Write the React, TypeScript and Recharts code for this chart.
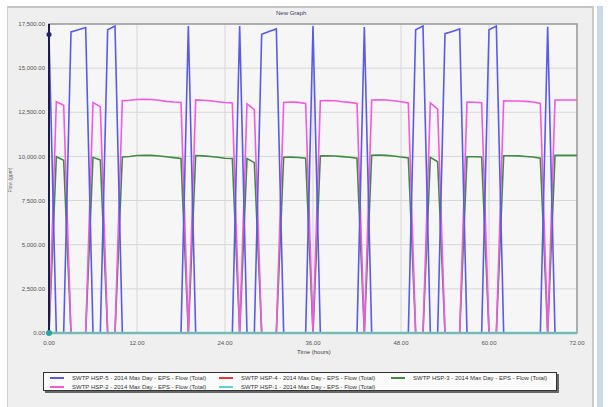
import React from "react";
import {
  LineChart,
  Line,
  XAxis,
  YAxis,
  CartesianGrid,
  ReferenceArea,
} from "recharts";

// time steps (hours)
const hours = [
  0, 1, 2, 3, 4, 5, 6, 7, 8, 9, 10, 11, 12, 13, 14, 15, 16, 17, 18, 19, 20, 21, 22, 23, 24,
  25, 26, 27, 28, 29, 30, 31, 32, 33, 34, 35, 36, 37, 38, 39, 40, 41, 42, 43, 44, 45, 46, 47, 48,
  49, 50, 51, 52, 53, 54, 55, 56, 57, 58, 59, 60, 61, 62, 63, 64, 65, 66, 67, 68, 69, 70, 71, 72,
];

// SWTP HSP-5
const hsp5 = [
  16900, 0, 0, 17050, 17180, 17300, 0, 0, 17170, 17380, 0, 0, 0, 0, 0, 0, 0, 0, 0, 17380, 0, 0, 0, 0, 0,
  0, 17380, 0, 0, 16920, 17080, 17220, 0, 0, 0, 0, 17380, 0, 0, 0, 0, 0, 0, 17330, 0, 0, 0, 0, 0,
  0, 17170, 17380, 0, 0, 16950, 17080, 17220, 0, 0, 0, 17170, 17380, 0, 0, 0, 0, 0, 0, 17350, 0, 0, 0, 0,
];

// SWTP HSP-4
const hsp4 = [
  0, 0, 0, 0, 0, 0, 0, 0, 0, 0, 0, 0, 0, 0, 0, 0, 0, 0, 0, 0, 0, 0, 0, 0, 0,
  0, 0, 0, 0, 0, 0, 0, 0, 0, 0, 0, 0, 0, 0, 0, 0, 0, 0, 0, 0, 0, 0, 0, 0,
  0, 0, 0, 0, 0, 0, 0, 0, 0, 0, 0, 0, 0, 0, 0, 0, 0, 0, 0, 0, 0, 0, 0, 0,
];

// SWTP HSP-3
const hsp3 = [
  0, 9980, 9780, 0, 0, 0, 9950, 9800, 0, 0, 9970, 10000, 10050, 10070, 10060, 10020, 9980, 9930, 9880, 0, 10050, 10030, 10000, 9950, 9900,
  9880, 0, 9880, 9650, 0, 0, 0, 9950, 9960, 9940, 9900, 0, 10030, 10040, 10020, 9990, 9950, 9900, 0, 10070, 10080, 10060, 10020, 9970,
  9920, 0, 0, 9950, 9700, 0, 0, 0, 9980, 9980, 9970, 0, 0, 10040, 10040, 10030, 10000, 9970, 9900, 0, 10060, 10060, 10060, 10060,
];

// SWTP HSP-2
const hsp2 = [
  0, 13100, 12900, 0, 0, 0, 13050, 12820, 0, 0, 13150, 13180, 13220, 13230, 13220, 13180, 13120, 13080, 13050, 0, 13200, 13180, 13150, 13100, 13050,
  13030, 0, 12980, 12650, 0, 0, 0, 13050, 13080, 13060, 13000, 0, 13150, 13160, 13150, 13100, 13060, 13000, 0, 13200, 13210, 13200, 13150, 13100,
  13030, 0, 0, 13030, 12680, 0, 0, 0, 13080, 13070, 13040, 0, 0, 13150, 13140, 13140, 13120, 13080, 13000, 0, 13200, 13200, 13200, 13200,
];

// SWTP HSP-1
const hsp1 = [
  0, 0, 0, 0, 0, 0, 0, 0, 0, 0, 0, 0, 0, 0, 0, 0, 0, 0, 0, 0, 0, 0, 0, 0, 0,
  0, 0, 0, 0, 0, 0, 0, 0, 0, 0, 0, 0, 0, 0, 0, 0, 0, 0, 0, 0, 0, 0, 0, 0,
  0, 0, 0, 0, 0, 0, 0, 0, 0, 0, 0, 0, 0, 0, 0, 0, 0, 0, 0, 0, 0, 0, 0, 0,
];

const xTicks = [0, 12, 24, 36, 48, 60, 72];
const yTicks = [0, 2500, 5000, 7500, 10000, 12500, 15000, 17500];

const legendItems = [
  { key: "hsp5", name: "SWTP HSP-5 - 2014 Max Day - EPS - Flow (Total)", color: "#5a5ae6" },
  { key: "hsp4", name: "SWTP HSP-4 - 2014 Max Day - EPS - Flow (Total)", color: "#e23a3a" },
  { key: "hsp3", name: "SWTP HSP-3 - 2014 Max Day - EPS - Flow (Total)", color: "#3f8a45" },
  { key: "hsp2", name: "SWTP HSP-2 - 2014 Max Day - EPS - Flow (Total)", color: "#f05ae0" },
  { key: "hsp1", name: "SWTP HSP-1 - 2014 Max Day - EPS - Flow (Total)", color: "#5ed2d2" },
];

const data = hours.map((h, i) => ({
  t: h,
  hsp5: hsp5[i],
  hsp4: hsp4[i],
  hsp3: hsp3[i],
  hsp2: hsp2[i],
  hsp1: hsp1[i],
}));

const font = '"Liberation Sans", Arial, sans-serif';

const fmt = (v: number) =>
  v.toLocaleString("en-US", { minimumFractionDigits: 2, maximumFractionDigits: 2 });

// only the first point gets a marker
const firstDot = (fill: string, r: number) => (p: any) =>
  p.index === 0 ? (
    <circle key={`d-${fill}-${p.index}`} cx={p.cx} cy={p.cy} r={r} fill={fill} />
  ) : (
    <g key={`d-${fill}-${p.index}`} />
  );

export default function App() {
  const colOf = (k: string) => legendItems.find((l) => l.key === k)!.color;

  return (
    <div
      style={{
        position: "fixed",
        left: 0,
        top: 0,
        width: 611,
        height: 407,
        background: "#ffffff",
        fontFamily: font,
        overflow: "hidden",
      }}
    >
      {/* window panel */}
      <div
        style={{
          position: "absolute",
          left: 7,
          top: 6,
          width: 587,
          height: 401,
          background: "#efefef",
          borderTop: "2px solid #c4c4c4",
          borderLeft: "1px solid #cfcfcf",
          borderRight: "2px solid #c9c9c9",
          boxSizing: "border-box",
        }}
      />
      <div
        style={{
          position: "absolute",
          left: 597,
          top: 6,
          width: 6,
          height: 401,
          background: "#c9d9e8",
        }}
      />

      <div
        style={{
          position: "absolute",
          left: 276,
          top: 10,
          fontSize: 6,
          color: "#3a3a6a",
        }}
      >
        New Graph
      </div>

      <div style={{ position: "absolute", left: 0, top: 0 }}>
        <LineChart
          width={611}
          height={407}
          data={data}
          margin={{ top: 24, right: 34, bottom: 0, left: 0 }}
        >
          <CartesianGrid stroke="#d6d6d6" fill="#f6f6f6" />
          <XAxis
            dataKey="t"
            type="number"
            domain={[0, 72]}
            ticks={xTicks}
            tickFormatter={fmt}
            height={74}
            tickLine={false}
            axisLine={{ stroke: "#9a9a9a" }}
            tick={{ fontSize: 6, fill: "#555", fontFamily: font }}
          />
          <YAxis
            type="number"
            domain={[0, 17500]}
            ticks={yTicks}
            tickFormatter={fmt}
            width={49}
            tickLine={false}
            tickSize={0}
            tickMargin={4}
            axisLine={{ stroke: "#1c1c4c", strokeWidth: 2 }}
            tick={{ fontSize: 6, fill: "#555", fontFamily: font }}
          />
          <ReferenceArea
            x1={0}
            x2={72}
            y1={0}
            y2={17500}
            fill="none"
            stroke="#9c9c9c"
            strokeWidth={1.5}
          />
          <Line
            type="linear"
            dataKey="hsp3"
            stroke={colOf("hsp3")}
            strokeWidth={1.6}
            dot={false}
            isAnimationActive={false}
          />
          <Line
            type="linear"
            dataKey="hsp2"
            stroke={colOf("hsp2")}
            strokeWidth={1.6}
            dot={false}
            isAnimationActive={false}
          />
          <Line
            type="linear"
            dataKey="hsp5"
            stroke={colOf("hsp5")}
            strokeWidth={1.6}
            dot={firstDot("#1e1e70", 2.5)}
            isAnimationActive={false}
          />
          <Line
            type="linear"
            dataKey="hsp4"
            stroke={colOf("hsp4")}
            strokeWidth={1.6}
            dot={false}
            isAnimationActive={false}
          />
          <Line
            type="linear"
            dataKey="hsp1"
            stroke={colOf("hsp1")}
            strokeWidth={2.6}
            dot={firstDot("#2aa6a0", 3)}
            isAnimationActive={false}
          />
        </LineChart>
      </div>

      <div
        style={{
          position: "absolute",
          left: 297,
          top: 349,
          fontSize: 6,
          color: "#444",
        }}
      >
        Time (hours)
      </div>
      <div
        style={{
          position: "absolute",
          left: 10,
          top: 180,
          fontSize: 5,
          color: "#666",
          transform: "translate(-50%, -50%) rotate(-90deg)",
          whiteSpace: "nowrap",
        }}
      >
        Flow (gpm)
      </div>

      {/* legend */}
      <div
        style={{
          position: "absolute",
          left: 43,
          top: 372,
          width: 514,
          height: 19,
          boxSizing: "border-box",
          border: "1px solid #333",
          background: "#fbfbfb",
          boxShadow: "2px 2px 0 #666",
        }}
      >
        {legendItems.map((l, i) => {
          const col = i % 3;
          const row = Math.floor(i / 3);
          const left = [6, 175, 347][col];
          return (
            <div
              key={l.key}
              style={{
                position: "absolute",
                left,
                top: 1 + row * 9,
                height: 8,
                display: "flex",
                alignItems: "center",
                whiteSpace: "nowrap",
              }}
            >
              <span
                style={{
                  display: "inline-block",
                  width: 14,
                  height: 2,
                  background: l.color,
                  marginRight: 8,
                }}
              />
              <span style={{ fontSize: 6, color: "#333" }}>{l.name}</span>
            </div>
          );
        })}
      </div>
    </div>
  );
}
